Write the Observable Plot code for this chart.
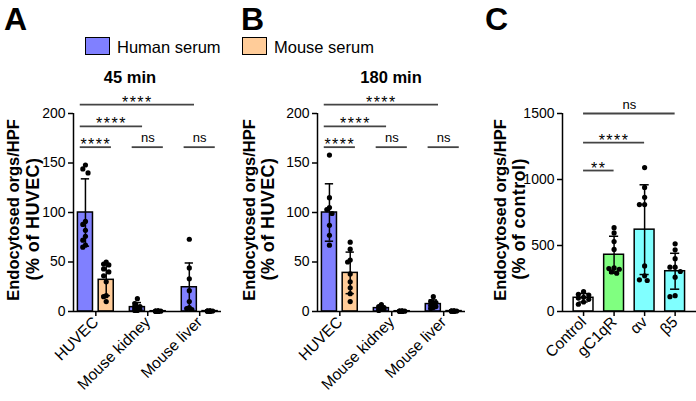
<!DOCTYPE html>
<html>
<head>
<meta charset="utf-8">
<script src="https://cdn.jsdelivr.net/npm/d3@7"></script>
<script src="https://cdn.jsdelivr.net/npm/@observablehq/plot@0.6"></script>
<style>
  body { margin: 0; background: #fff; font-family: "Liberation Sans", Arial, Helvetica, sans-serif; }
  #root { position: relative; width: 696px; height: 401px; overflow: hidden; background: #fff; }
  #root > svg { position: absolute; top: 0; }
  .abs { position: absolute; white-space: nowrap; line-height: 1; color: #000; }
  .box { position: absolute; box-sizing: border-box; border: 1.5px solid #000; }
</style>
</head>
<body>
<div id="root"></div>
<script>
// ---------------- DATA ----------------
const tissues = ["HUVEC", "Mouse kidney", "Mouse liver"];
const sera = ["Human serum", "Mouse serum"];
const serumColors = ["#8080ff", "#ffcc99"];
const yTicksAB = [0, 50, 100, 150, 200];

// Panel A: 45 min  (index 0 = human serum, 1 = mouse serum)
const mean45Human = [100, 4.4, 24.5];
const sd45Human = [34, 4.6, 24.5];
const mean45Mouse = [32, 0.3, 0.4];
const sd45Mouse = [16, 0.2, 0.2];
const pts45Human = [
  [148, 144, 140, 91, 88, 82, 76, 72, 67, 65],
  [13, 8, 5, 5, 4, 3, 2, 2, 1, 1],
  [73, 44, 33, 21, 10, 4, 3, 2]
];
const pts45Mouse = [
  [50, 48, 47, 43, 40, 36, 30, 16, 15, 10],
  [0.3, 0.2, 0.4, 0.3, 0.3, 0.2, 0.4, 0.3, 0.3],
  [0.4, 0.3, 0.5, 0.4, 0.4, 0.3, 0.5, 0.4]
];
const brackets45 = [
  {from: ["HUVEC", "Human serum"], to: ["Mouse liver", "Human serum"], y: 209, label: "****"},
  {from: ["HUVEC", "Human serum"], to: ["Mouse kidney", "Human serum"], y: 187, label: "****"},
  {from: ["HUVEC", "Human serum"], to: ["HUVEC", "Mouse serum"], y: 166, label: "****"},
  {from: ["Mouse kidney", "Human serum"], to: ["Mouse kidney", "Mouse serum"], y: 166, label: "ns"},
  {from: ["Mouse liver", "Human serum"], to: ["Mouse liver", "Mouse serum"], y: 166, label: "ns"}
];

// Panel B: 180 min
const mean180Human = [100, 3.4, 7.5];
const sd180Human = [29, 2, 4.2];
const mean180Mouse = [39, 0.3, 0.4];
const sd180Mouse = [21, 0.2, 0.2];
const pts180Human = [
  [158, 115, 105, 103, 99, 87, 77, 67],
  [7, 5, 4, 3, 3, 2, 2, 1],
  [15, 10, 9, 8, 6, 5, 4, 3]
];
const pts180Mouse = [
  [70, 63, 52, 50, 38, 30, 24, 18, 10],
  [0.3, 0.2, 0.4, 0.3, 0.3, 0.2, 0.4, 0.3],
  [0.4, 0.3, 0.5, 0.4, 0.4, 0.3, 0.5, 0.4]
];
const brackets180 = [
  {from: ["HUVEC", "Human serum"], to: ["Mouse liver", "Human serum"], y: 209, label: "****"},
  {from: ["HUVEC", "Human serum"], to: ["Mouse kidney", "Human serum"], y: 187, label: "****"},
  {from: ["HUVEC", "Human serum"], to: ["HUVEC", "Mouse serum"], y: 166, label: "****"},
  {from: ["Mouse kidney", "Human serum"], to: ["Mouse kidney", "Mouse serum"], y: 166, label: "ns"},
  {from: ["Mouse liver", "Human serum"], to: ["Mouse liver", "Mouse serum"], y: 166, label: "ns"}
];

// Panel C
const groupsC = ["Control", "gC1qR", "αv", "β5"];
const colorsC = ["#ffffff", "#80ff80", "#80ffff", "#80ffff"];
const yTicksC = [0, 500, 1000, 1500];
const meanC = [104, 430, 620, 305];
const sdC = [32, 140, 340, 136];
const ptsC = [
  [150, 130, 125, 108, 102, 92, 72, 55],
  [635, 595, 530, 470, 330, 325, 320, 300, 290],
  [1090, 940, 865, 810, 810, 345, 270, 240, 235],
  [513, 467, 400, 336, 336, 303, 260, 120, 112]
];
const bracketsC = [
  {from: "Control", to: "gC1qR", y: 1068, label: "**"},
  {from: "Control", to: "αv", y: 1280, label: "****"},
  {from: "Control", to: "β5", y: 1500, label: "ns"}
];

// ---------------- LAYOUT ----------------
const fontFamily = '"Liberation Sans", Arial, Helvetica, sans-serif';
const H = 401, MT = 113, MB = 90;
const root = document.getElementById("root");

// deterministic scatter spread inside a bar (GraphPad-like)
function spread(values, pxY, halfPx, r) {
  const step = r;
  const cands = [0];
  for (let k = 1; k * step <= halfPx; k++) cands.push(-k * step, k * step);
  const order = d3.range(values.length).sort((a, b) => values[b] - values[a]);
  const placed = [], out = new Array(values.length);
  for (const idx of order) {
    const yp = values[idx] * pxY;
    let best = 0, bestD = -1;
    for (const c of cands) {
      let dmin = Infinity;
      for (const p of placed) dmin = Math.min(dmin, Math.hypot(p.x - c, p.y - yp));
      if (dmin >= 2 * r) { best = c; bestD = dmin; break; }
      if (dmin > bestD) { bestD = dmin; best = c; }
    }
    placed.push({x: best, y: yp});
    out[idx] = best;
  }
  return out;
}

function bracketMarks(br) {
  const stars = br.filter(d => d.label.startsWith("*"));
  const ns = br.filter(d => !d.label.startsWith("*"));
  return [
    Plot.ruleY(br, {y: "y", x1: "x1", x2: "x2", stroke: "#444", strokeWidth: 1.8}),
    Plot.text(stars, {x: d => (d.x1 + d.x2) / 2, y: "y", text: "label", lineAnchor: "bottom", dy: 3, fontSize: 16}),
    Plot.text(ns, {x: d => (d.x1 + d.x2) / 2, y: "y", text: "label", lineAnchor: "bottom", dy: -5, fontSize: 13})
  ];
}

function groupedPanel({means, sds, points, brackets, width, marginLeft, marginRight}) {
  const xDomain = [-0.43, 2.42];
  const pxX = (width - marginLeft - marginRight) / (xDomain[1] - xDomain[0]);
  const pxY = (H - MT - MB) / (yTicksAB[yTicksAB.length - 1] - yTicksAB[0]);
  const hw = 0.145, cap = 0.08, off = [-0.2, 0.2];
  const bars = [], dots = [];
  tissues.forEach((t, i) => sera.forEach((s, j) => {
    const c = i + off[j];
    bars.push({tissue: t, serum: s, c, mean: means[j][i], sd: sds[j][i]});
    const o = spread(points[j][i], pxY, hw * pxX - 3, 2.6);
    points[j][i].forEach((v, k) => dots.push({x: c + o[k] / pxX, v}));
  }));
  const pos = (t, s) => tissues.indexOf(t) + off[sera.indexOf(s)];
  const br = brackets.map(b => ({...b, x1: pos(...b.from) - 0.1, x2: pos(...b.to) + 0.1}));
  return Plot.plot({
    width, height: H, marginLeft, marginRight, marginTop: MT, marginBottom: MB,
    x: {domain: xDomain}, y: {domain: [yTicksAB[0], yTicksAB[yTicksAB.length - 1]]},
    color: {domain: sera, range: serumColors},
    style: {fontFamily, fontSize: "14px", color: "#000", background: "transparent", overflow: "visible"},
    marks: [
      Plot.rectY(bars, {x1: d => d.c - hw, x2: d => d.c + hw, y1: 0, y2: "mean", fill: "serum", stroke: "#000", strokeWidth: 1.5}),
      Plot.ruleX(bars, {x: "c", y1: d => Math.max(0, d.mean - d.sd), y2: d => d.mean + d.sd, stroke: "#000", strokeWidth: 1.5}),
      Plot.ruleY(bars, {y: d => d.mean + d.sd, x1: d => d.c - cap, x2: d => d.c + cap, stroke: "#000", strokeWidth: 1.5}),
      Plot.ruleY(bars.filter(d => d.mean - d.sd > 0), {y: d => d.mean - d.sd, x1: d => d.c - cap, x2: d => d.c + cap, stroke: "#000", strokeWidth: 1.5}),
      Plot.dot(dots, {x: "x", y: "v", r: 2.6, fill: "#000", stroke: null}),
      Plot.ruleY([0], {stroke: "#000", strokeWidth: 1.5}),
      Plot.ruleX([xDomain[0]], {stroke: "#000", strokeWidth: 1.5}),
      Plot.axisY({ticks: yTicksAB, tickFormat: "d", tickSize: 5, tickPadding: 3, fontSize: 14, strokeWidth: 1.5, label: null}),
      Plot.axisX({ticks: [0, 1, 2], tickFormat: i => tissues[i], tickRotate: -45, tickSize: 5, tickPadding: 3, fontSize: 15.5, strokeWidth: 1.5, label: null}),
      ...bracketMarks(br)
    ]
  });
}

function singlePanel({width, marginLeft, marginRight}) {
  const xDomain = [-0.69, 3.7];
  const pxX = (width - marginLeft - marginRight) / (xDomain[1] - xDomain[0]);
  const pxY = (H - MT - MB) / (yTicksC[yTicksC.length - 1] - yTicksC[0]);
  const hw = 0.325, cap = 0.15;
  const bars = groupsC.map((g, i) => ({group: g, c: i, mean: meanC[i], sd: sdC[i]}));
  const dots = [];
  groupsC.forEach((g, i) => {
    const o = spread(ptsC[i], pxY, hw * pxX - 3, 2.6);
    ptsC[i].forEach((v, k) => dots.push({x: i + o[k] / pxX, v}));
  });
  const br = bracketsC.map(b => ({...b, x1: groupsC.indexOf(b.from), x2: groupsC.indexOf(b.to)}));
  return Plot.plot({
    width, height: H, marginLeft, marginRight, marginTop: MT, marginBottom: MB,
    x: {domain: xDomain}, y: {domain: [yTicksC[0], yTicksC[yTicksC.length - 1]]},
    color: {domain: groupsC, range: colorsC},
    style: {fontFamily, fontSize: "14px", color: "#000", background: "transparent", overflow: "visible"},
    marks: [
      Plot.rectY(bars, {x1: d => d.c - hw, x2: d => d.c + hw, y1: 0, y2: "mean", fill: "group", stroke: "#000", strokeWidth: 1.5}),
      Plot.ruleX(bars, {x: "c", y1: d => Math.max(0, d.mean - d.sd), y2: d => d.mean + d.sd, stroke: "#000", strokeWidth: 1.5}),
      Plot.ruleY(bars, {y: d => d.mean + d.sd, x1: d => d.c - cap, x2: d => d.c + cap, stroke: "#000", strokeWidth: 1.5}),
      Plot.ruleY(bars.filter(d => d.mean - d.sd > 0), {y: d => d.mean - d.sd, x1: d => d.c - cap, x2: d => d.c + cap, stroke: "#000", strokeWidth: 1.5}),
      Plot.dot(dots, {x: "x", y: "v", r: 2.6, fill: "#000", stroke: null}),
      Plot.ruleY([0], {stroke: "#000", strokeWidth: 1.5}),
      Plot.ruleX([xDomain[0]], {stroke: "#000", strokeWidth: 1.5}),
      Plot.axisY({ticks: yTicksC, tickFormat: "d", tickSize: 5, tickPadding: 3, fontSize: 14, strokeWidth: 1.5, label: null}),
      Plot.axisX({ticks: [0, 1, 2, 3], tickFormat: i => groupsC[i], tickRotate: -45, tickSize: 5, tickPadding: 3, fontSize: 15.5, strokeWidth: 1.5, label: null}),
      ...bracketMarks(br)
    ]
  });
}

function addYLabel(svg, lines) {
  const s = d3.select(svg);
  for (const l of lines) {
    s.append("text")
      .attr("transform", `translate(${l.x},${l.y}) rotate(-90)`)
      .attr("text-anchor", "middle")
      .attr("font-weight", "bold")
      .attr("font-size", l.size)
      .attr("font-family", fontFamily)
      .attr("fill", "#000")
      .style("letter-spacing", l.ls || "0px")
      .text(l.text);
  }
  s.selectAll("text").filter(function() { return /^\*+$/.test(this.textContent); })
    .style("letter-spacing", "1.5px");
}

function place(svg, left) {
  svg.style.left = left + "px";
  root.appendChild(svg);
}

const svgA = groupedPanel({means: [mean45Human, mean45Mouse], sds: [sd45Human, sd45Mouse],
  points: [pts45Human, pts45Mouse], brackets: brackets45, width: 235, marginLeft: 73, marginRight: 14});
addYLabel(svgA, [
  {text: "Endocytosed orgs/HPF", x: 19, y: 210, size: 16.5},
  {text: "(% of HUVEC)", x: 39, y: 219, size: 18, ls: "0.4px"}
]);
place(svgA, 0);

const svgB = groupedPanel({means: [mean180Human, mean180Mouse], sds: [sd180Human, sd180Mouse],
  points: [pts180Human, pts180Mouse], brackets: brackets180, width: 230, marginLeft: 77, marginRight: 5});
addYLabel(svgB, [
  {text: "Endocytosed orgs/HPF", x: 15, y: 210, size: 16.5},
  {text: "(% of HUVEC)", x: 34, y: 219, size: 18, ls: "0.4px"}
]);
place(svgB, 240);

const svgC = singlePanel({width: 226, marginLeft: 92, marginRight: 0});
addYLabel(svgC, [
  {text: "Endocytosed orgs/HPF", x: 36, y: 210, size: 16.5},
  {text: "(% of control)", x: 55, y: 219, size: 18, ls: "0.4px"}
]);
place(svgC, 470);

// ---------------- TEXT OVERLAYS ----------------
function addText(text, left, baseline, size, weight, center) {
  const d = document.createElement("div");
  d.className = "abs";
  d.textContent = text;
  d.style.fontSize = size + "px";
  d.style.fontWeight = weight;
  d.style.top = (baseline - 0.8465 * size) + "px";
  d.style.left = left + "px";
  if (center) d.style.transform = "translateX(-50%)";
  root.appendChild(d);
}
addText("A", 4, 30, 32, "bold");
addText("B", 241, 30, 32, "bold");
addText("C", 485, 30, 32, "bold");
addText("45 min", 130, 83, 16.5, "bold", true);
addText("180 min", 391, 83, 16.5, "bold", true);

const legendX = [85, 242];
sera.forEach((s, i) => {
  const b = document.createElement("div");
  b.className = "box";
  b.style.left = legendX[i] + "px";
  b.style.top = "37px";
  b.style.width = "25px";
  b.style.height = "18px";
  b.style.background = serumColors[i];
  root.appendChild(b);
  addText(s, legendX[i] + 32, 53, 16.5, "normal");
});
</script>
</body>
</html>
